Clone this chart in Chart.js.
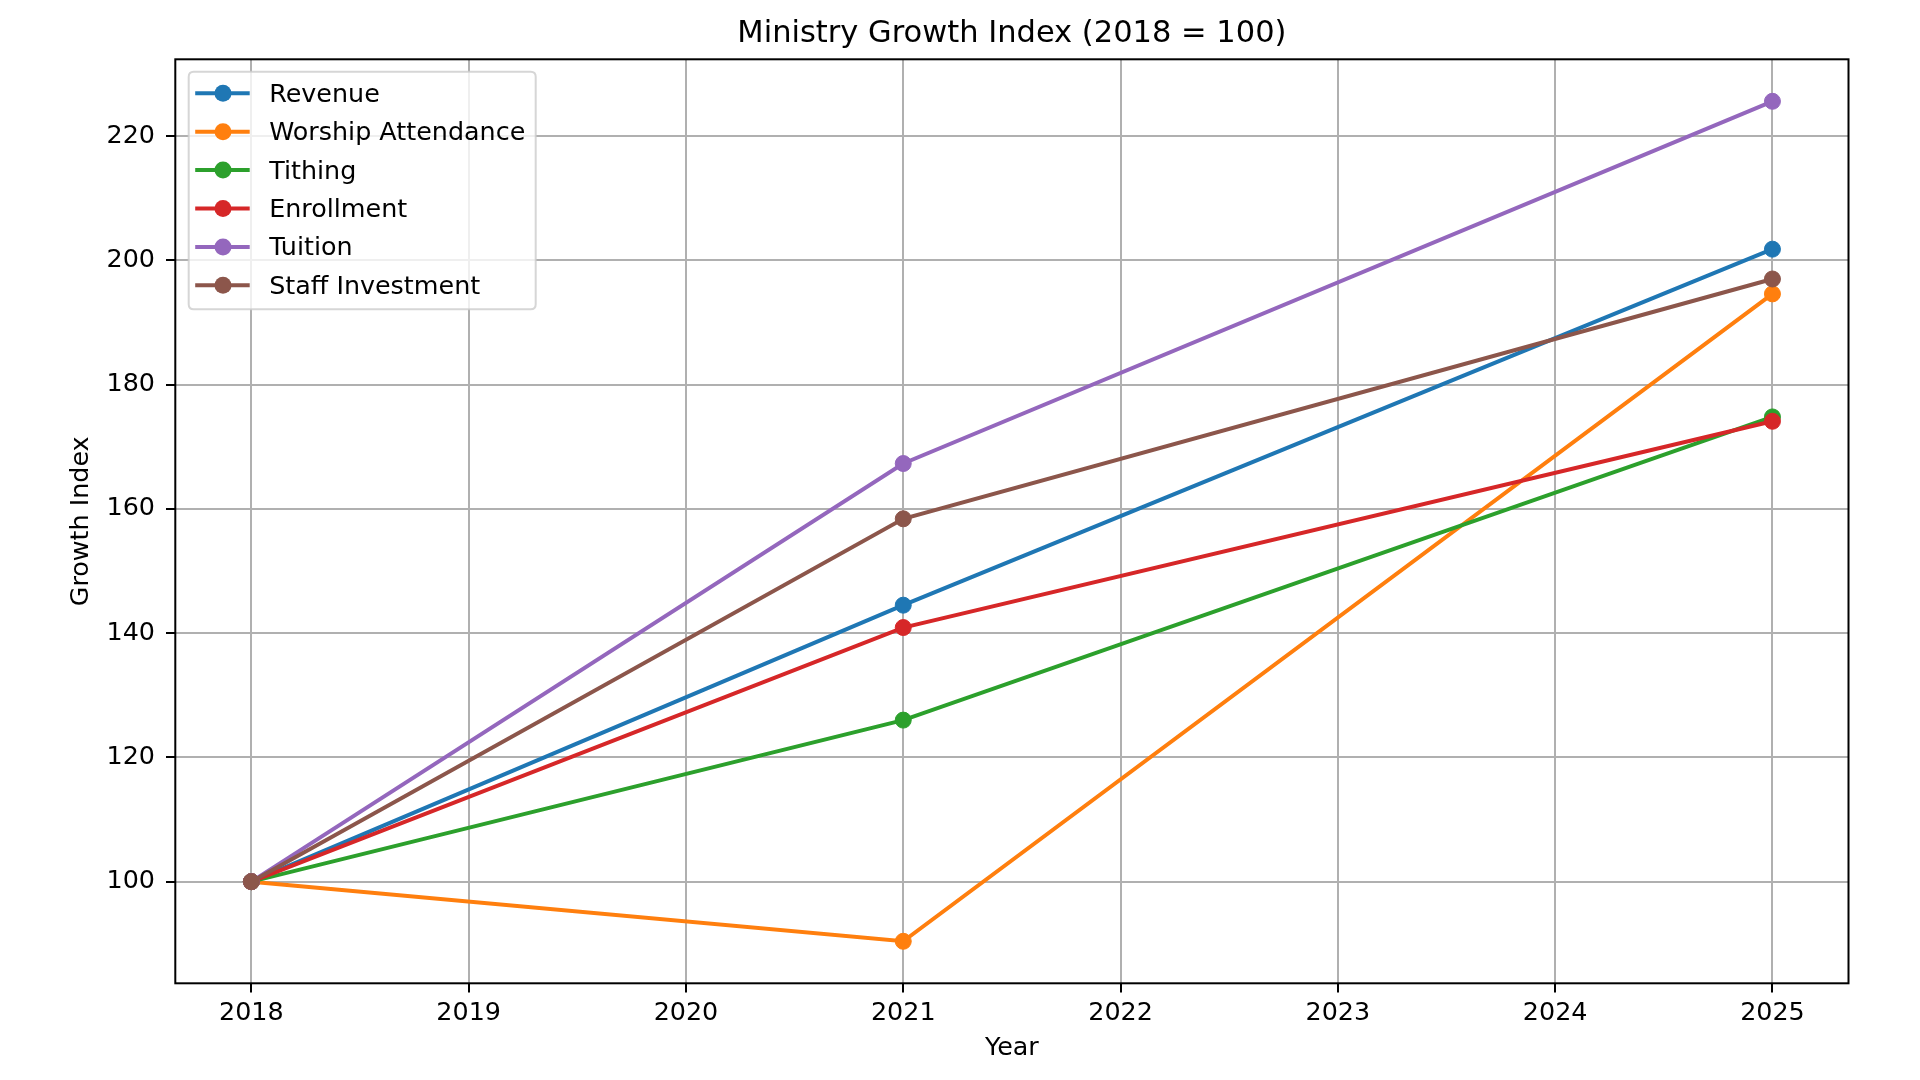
<!DOCTYPE html>
<html>
<head>
<meta charset="utf-8">
<script src="https://cdn.jsdelivr.net/npm/chart.js@4.4.1/dist/chart.umd.min.js"></script>
<style>
  html, body { margin: 0; padding: 0; background: #fff; }
  canvas { display: block; }
</style>
</head>
<body>
<canvas id="c" width="1920" height="1080"></canvas>
<script>
// ---- data ----
const years = [2018, 2021, 2025];
const seriesNames = ["Revenue", "Worship Attendance", "Tithing", "Enrollment", "Tuition", "Staff Investment"];
const revenue    = [100, 144.5, 201.8];
const worship    = [100, 90.4, 194.6];
const tithing    = [100, 126.0, 174.8];
const enrollment = [100, 140.9, 174.1];
const tuition    = [100, 167.3, 225.6];
const staff      = [100, 158.4, 197.0];
const xTickValues = [2018, 2019, 2020, 2021, 2022, 2023, 2024, 2025];
const yTickValues = [100, 120, 140, 160, 180, 200, 220];
const titleText = "Ministry Growth Index (2018 = 100)";
const xLabel = "Year";
const yLabel = "Growth Index";

// ---- style ----
const colors = ["#1f77b4", "#ff7f0e", "#2ca02c", "#d62728", "#9467bd", "#8c564b"];
const FONT = "'DejaVu Sans', sans-serif";
const FS = 25.4;

const allSeries = [revenue, worship, tithing, enrollment, tuition, staff];
const allVals = allSeries.flat();
const yMinD = Math.min(...allVals), yMaxD = Math.max(...allVals);
const yM = (yMaxD - yMinD) * 0.05;
const xMinD = Math.min(...years), xMaxD = Math.max(...years);
const xM = (xMaxD - xMinD) * 0.05;

const datasets = allSeries.map((arr, i) => ({
  label: seriesNames[i],
  data: years.map((y, j) => ({ x: y, y: arr[j] })),
  borderColor: colors[i],
  backgroundColor: colors[i],
  pointBackgroundColor: colors[i],
  pointBorderColor: colors[i],
  borderWidth: 4,
  pointRadius: 8,
  pointBorderWidth: 1,
  pointHoverRadius: 8,
  tension: 0,
  fill: false,
  order: allSeries.length - i
}));

const framePlugin = {
  id: 'frame',
  afterDatasetsDraw(chart) {
    const { ctx, chartArea: a } = chart;
    ctx.save();
    ctx.strokeStyle = '#000';
    ctx.lineWidth = 2;
    ctx.strokeRect(a.left, a.top, a.right - a.left, a.bottom - a.top);
    ctx.restore();
  }
};

const legendPlugin = {
  id: 'mplLegend',
  afterDraw(chart) {
    const { ctx, chartArea: a } = chart;
    const x0 = a.left + 13.4, y0 = a.top + 12.4;
    const w = 347, rowH = 38.4;
    const h = 237.6;
    ctx.save();
    ctx.beginPath();
    const r = 5;
    ctx.moveTo(x0 + r, y0);
    ctx.lineTo(x0 + w - r, y0);
    ctx.quadraticCurveTo(x0 + w, y0, x0 + w, y0 + r);
    ctx.lineTo(x0 + w, y0 + h - r);
    ctx.quadraticCurveTo(x0 + w, y0 + h, x0 + w - r, y0 + h);
    ctx.lineTo(x0 + r, y0 + h);
    ctx.quadraticCurveTo(x0, y0 + h, x0, y0 + h - r);
    ctx.lineTo(x0, y0 + r);
    ctx.quadraticCurveTo(x0, y0, x0 + r, y0);
    ctx.closePath();
    ctx.fillStyle = 'rgba(255,255,255,0.8)';
    ctx.fill();
    ctx.strokeStyle = 'rgba(204,204,204,0.8)';
    ctx.lineWidth = 2;
    ctx.stroke();
    ctx.font = FS + 'px ' + FONT;
    ctx.textBaseline = 'middle';
    ctx.textAlign = 'left';
    chart.data.datasets.forEach((ds, i) => {
      const cy = y0 + 21.6 + i * rowH;
      ctx.strokeStyle = ds.borderColor;
      ctx.lineWidth = 4;
      ctx.beginPath();
      ctx.moveTo(x0 + 6.5, cy);
      ctx.lineTo(x0 + 61, cy);
      ctx.stroke();
      ctx.fillStyle = ds.borderColor;
      ctx.beginPath();
      ctx.arc(x0 + 34.3, cy, 8.5, 0, Math.PI * 2);
      ctx.fill();
      ctx.fillStyle = '#000';
      ctx.fillText(ds.label, x0 + 80.5, cy + 2);
    });
    ctx.restore();
  }
};

new Chart(document.getElementById('c'), {
  type: 'line',
  data: { datasets },
  options: {
    responsive: false,
    devicePixelRatio: 1,
    animation: false,
    layout: { padding: { left: 0, right: 71.5, top: 0, bottom: 0 } },
    plugins: {
      legend: { display: false },
      tooltip: { enabled: false },
      title: {
        display: true,
        text: titleText,
        fullSize: false,
        color: '#000',
        font: { family: FONT, size: 30.5, weight: 'normal', lineHeight: 1.2 },
        padding: { top: 16, bottom: 6.7 }
      }
    },
    scales: {
      x: {
        type: 'linear',
        min: xMinD - xM,
        max: xMaxD + xM,
        afterBuildTicks: s => { s.ticks = xTickValues.map(v => ({ value: v })); },
        afterFit: s => { s.height = 96.7; },
        ticks: {
          color: '#000',
          font: { family: FONT, size: FS },
          padding: 6,
          maxRotation: 0,
          autoSkip: false,
          callback: v => String(v)
        },
        grid: { color: '#b0b0b0', lineWidth: 2, drawTicks: true, tickLength: 9.3, tickColor: '#000', tickWidth: 2 },
        border: { display: false },
        title: {
          display: true, text: xLabel, color: '#000',
          font: { family: FONT, size: FS, lineHeight: 1.2 },
          padding: { top: 0, bottom: 16 }
        }
      },
      y: {
        type: 'linear',
        min: yMinD - yM,
        max: yMaxD + yM,
        afterBuildTicks: s => { s.ticks = yTickValues.map(v => ({ value: v })); },
        afterFit: s => { s.width = 175.3; },
        ticks: {
          color: '#000',
          font: { family: FONT, size: FS },
          padding: 11,
          autoSkip: false,
          callback: v => String(v)
        },
        grid: { color: '#b0b0b0', lineWidth: 2, drawTicks: true, tickLength: 9.3, tickColor: '#000', tickWidth: 2 },
        border: { display: false },
        title: {
          display: true, text: yLabel, color: '#000',
          font: { family: FONT, size: FS, lineHeight: 1.2 },
          padding: { top: 66, bottom: 0 }
        }
      }
    }
  },
  plugins: [framePlugin, legendPlugin]
});
</script>
</body>
</html>
